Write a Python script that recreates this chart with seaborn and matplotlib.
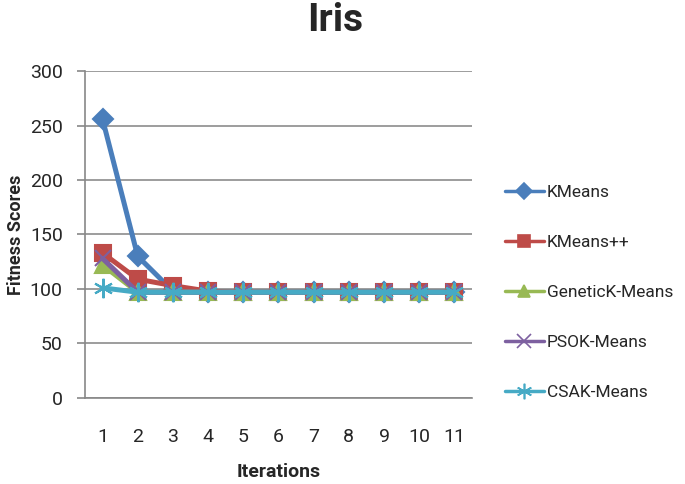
import matplotlib
matplotlib.use("Agg")
import matplotlib.pyplot as plt
from matplotlib.lines import Line2D
import numpy as np
import pandas as pd
import seaborn as sns

iterations = list(range(1, 12))
kmeans = [256, 130, 98, 97, 97, 97, 97, 97, 97, 97, 97]
kmeans_pp = [133, 109, 103, 98, 97, 97, 97, 97, 97, 97, 97]
genetic = [122, 97, 97, 97, 97, 97, 97, 97, 97, 97, 97]
pso = [128, 97, 97, 97, 97, 97, 97, 97, 97, 97, 97]
csa = [101, 97, 97, 97, 97, 97, 97, 97, 97, 97, 97]

names = ['KMeans', 'KMeans++', 'GeneticK-Means', 'PSOK-Means', 'CSAK-Means']
series = [kmeans, kmeans_pp, genetic, pso, csa]
colors = ['#4a7ebb', '#be4b48', '#98b954', '#7d60a0', '#46aac5']
markers = ['D', 's', '^', 'x', (6, 2, 0)]
msizes = [10, 11, 11, 12, 14]

sns.set_style("white")
plt.rcParams['font.family'] = ['Roboto', 'DejaVu Sans']

fig = plt.figure(figsize=(6.85, 4.84), dpi=100)
ax = fig.add_axes([0.124, 0.178, 0.565, 0.675])

for name, vals, c, m, ms in zip(names, series, colors, markers, msizes):
    df = pd.DataFrame({'Iteration': iterations, 'Score': vals})
    sns.lineplot(data=df, x='Iteration', y='Score', ax=ax, color=c, lw=3.6,
                 marker=m, markersize=ms, markeredgecolor=c, markeredgewidth=1.5)

ax.set_xlim(0.5, 11.5)
ax.set_ylim(0, 300)
ax.set_yticks(np.arange(0, 301, 50))
ax.set_xticks(iterations)
ax.set_xticks(np.arange(0.5, 12, 1), minor=True)
ax.tick_params(axis='x', which='major', length=0, pad=22, labelsize=14)
ax.tick_params(axis='x', which='minor', length=7, color='#888888', width=1.2)
ax.tick_params(axis='y', which='major', length=6, color='#888888', width=1.2,
               labelsize=14, direction='out', left=True, pad=10)
ax.grid(axis='y', color='#8c8c8c', lw=1.2)
ax.set_axisbelow(True)
for s in ['top', 'right']:
    ax.spines[s].set_visible(False)
for s in ['left', 'bottom']:
    ax.spines[s].set_color('#888888')
    ax.spines[s].set_linewidth(1.2)

ax.set_xlabel('Iterations', fontsize=14, fontweight='bold', labelpad=12)
ax.set_ylabel('Fitness Scores', fontsize=13, fontweight='bold')
ax.yaxis.set_label_coords(-0.155, 0.5)
fig.suptitle('Iris', fontsize=28, fontweight='bold', x=0.49, y=0.995)

handles = [Line2D([], [], color=c, lw=2.5, marker=m, markersize=ms * 0.8,
                  markeredgecolor=c, markeredgewidth=1.2)
           for c, m, ms in zip(colors, markers, msizes)]
fig.legend(handles, names, loc='center left', bbox_to_anchor=(0.715, 0.396),
           frameon=False, fontsize=12.5, labelspacing=2.0, handlelength=2.2,
           handletextpad=0.2)

fig.savefig('out.png', dpi=100)
